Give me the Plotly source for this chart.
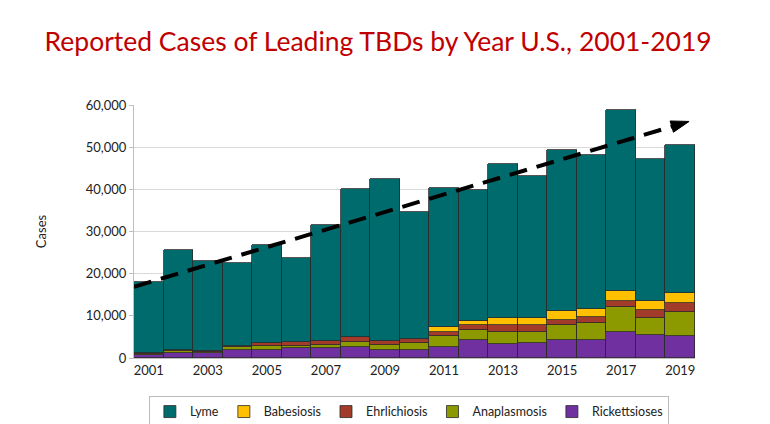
import plotly.graph_objects as go

years = list(range(2001, 2020))

# cases by disease
rickettsioses = [700, 1100, 1100, 1950, 2000, 2300, 2300, 2700, 1900, 1900,
                 2550, 4300, 3350, 3500, 4200, 4280, 6250, 5500, 5220]
anaplasmosis = [350, 500, 350, 550, 800, 650, 830, 1100, 1150, 1750,
                2650, 2380, 2750, 2780, 3550, 4050, 5740, 4050, 5600]
ehrlichiosis = [150, 200, 300, 350, 700, 870, 900, 1200, 950, 900,
                1000, 1250, 1650, 1550, 1320, 1450, 1620, 1880, 2300]
babesiosis = [0, 0, 0, 0, 0, 0, 0, 0, 0, 0,
              1100, 930, 1780, 1760, 2120, 1830, 2370, 2200, 2400]
lyme = [16800, 23800, 21250, 19700, 23300, 19800, 27600, 35000, 38500, 30000,
        33100, 30900, 36500, 33600, 38100, 36600, 42800, 33650, 35100]

# dashed trend arrow
trend_x = [2000.5, 2019.3]
trend_y = [16900, 56100]

series = [
    ("Rickettsioses", rickettsioses, "#7030A0"),
    ("Anaplasmosis", anaplasmosis, "#8C9A00"),
    ("Ehrlichiosis", ehrlichiosis, "#A23B2A"),
    ("Babesiosis", babesiosis, "#FFC000"),
    ("Lyme", lyme, "#006B6D"),
]

fig = go.Figure()
for name, vals, col in series:
    fig.add_trace(go.Bar(
        x=years, y=vals, name=name,
        marker=dict(color=col, line=dict(color="#2b2b2b", width=0.8)),
    ))

fig.add_trace(go.Scatter(
    x=trend_x, y=trend_y, mode="lines+markers", showlegend=False,
    line=dict(color="black", width=4, dash="18px,10px"),
    marker=dict(symbol="arrow", angleref="previous", size=[0, 19], color="black",
                opacity=1, line=dict(color="black", width=1)),
    hoverinfo="skip",
))

# page body has an 8px margin, so the figure is a bit smaller than the window
fig.update_layout(
    width=762, height=416,
    barmode="stack", bargap=0,
    paper_bgcolor="white", plot_bgcolor="white",
    font=dict(family="Lato", size=13, color="#222"),
    margin=dict(l=126, r=75, t=97, b=66, autoexpand=False),
    title=dict(text="Reported Cases of Leading TBDs by Year U.S., 2001-2019",
               x=0.048, xanchor="left", y=0.918, yanchor="middle",
               font=dict(family="Lato", size=26.5, color="#C00000")),
    legend=dict(orientation="h", x=0.49, xanchor="center", y=-0.15, yanchor="top",
                traceorder="reversed", bordercolor="#bbbbbb", borderwidth=1,
                font=dict(size=12.5), itemwidth=30, tracegroupgap=0),
)
fig.update_xaxes(range=[2000.5, 2019.5], tickmode="array",
                 tickvals=list(range(2001, 2020, 2)), ticks="", showgrid=False,
                 showline=True, linecolor="#bfbfbf")
fig.update_yaxes(range=[0, 60000], dtick=10000, tickformat=",", showgrid=True,
                 gridcolor="#d9d9d9", showline=True, linecolor="#bfbfbf",
                 ticks="outside", ticklen=4, tickcolor="#bfbfbf",
                 title=dict(text="Cases", standoff=36, font=dict(size=13)))

fig.write_html("out.html")
